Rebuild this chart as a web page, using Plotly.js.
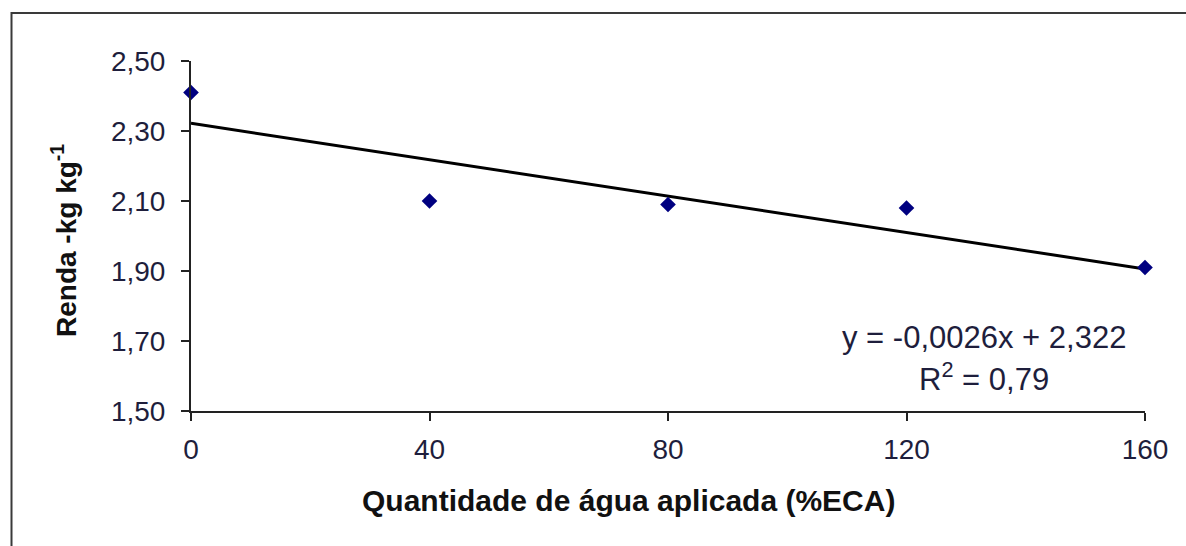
<!DOCTYPE html>
<html>
<head>
<meta charset="utf-8">
<script src="https://cdn.plot.ly/plotly-3.0.1.min.js"></script>
<style>html,body{margin:0;padding:0;background:#fff;}#chart{width:1186px;height:546px;}</style>
</head>
<body>
<div id="chart"></div>
<script>
// Data
const waterECA = [0, 40, 80, 120, 160];
const renda = [2.41, 2.10, 2.09, 2.08, 1.91];
// Linear fit printed on the chart
const fitSlope = -0.0026;
const fitIntercept = 2.322;
const fitR2 = '0,79';
const xTicks = [0, 40, 80, 120, 160];
const yTicks = [1.5, 1.7, 1.9, 2.1, 2.3, 2.5];

const fitX = [waterECA[0], waterECA[waterECA.length - 1]];
const fitY = fitX.map(x => fitIntercept + fitSlope * x);

const W = 1186, H = 546;
const L = 191, R = 41, T = 61, B = 135;
const pw = W - L - R, ph = H - T - B;
const px = p => (p - L) / pw;          // pixel -> paper x
const py = p => (H - B - p) / ph;      // pixel -> paper y

const tickFont = {family: 'Liberation Sans, Arial, sans-serif', size: 28, color: '#1e1e3c'};

const data = [
  {x: fitX, y: fitY, type: 'scatter', mode: 'lines',
   line: {color: '#000000', width: 3}, hoverinfo: 'skip', showlegend: false},
  {x: waterECA, y: renda, type: 'scatter', mode: 'markers', cliponaxis: false,
   marker: {symbol: 'diamond', size: 12, color: '#000080'}, showlegend: false}
];

const layout = {
  width: W, height: H,
  margin: {l: L, r: R, t: T, b: B, pad: 0},
  paper_bgcolor: '#ffffff', plot_bgcolor: '#ffffff',
  separators: ',.',
  xaxis: {
    range: [0, 160], tickvals: xTicks, ticktext: xTicks.map(String),
    showgrid: false, zeroline: false, showline: true, linecolor: '#222', linewidth: 2,
    ticks: 'outside', ticklen: 8, tickwidth: 2, tickcolor: '#222',
    tickfont: tickFont, ticklabelstandoff: 4, fixedrange: true
  },
  yaxis: {
    range: [1.5, 2.5], tickvals: yTicks, tickformat: '.2f',
    showgrid: false, zeroline: false, showline: true, linecolor: '#222', linewidth: 2,
    ticks: 'outside', ticklen: 8, tickwidth: 2, tickcolor: '#222',
    tickfont: tickFont, ticklabelstandoff: 10, fixedrange: true
  },
  shapes: [
    {type: 'rect', xref: 'paper', yref: 'paper',
     x0: px(11.5), x1: px(1250), y0: py(600), y1: py(13),
     line: {color: '#3a3a3a', width: 2}, fillcolor: 'rgba(0,0,0,0)', layer: 'below'}
  ],
  annotations: [
    {xref: 'paper', yref: 'paper', x: px(628), y: py(500), xanchor: 'center', yanchor: 'middle',
     text: 'Quantidade de água aplicada (%ECA)', showarrow: false,
     font: {family: 'Liberation Sans, Arial, sans-serif', size: 30, color: '#111', weight: 'bold'}},
    {xref: 'paper', yref: 'paper', x: px(64), y: py(241), xanchor: 'center', yanchor: 'middle',
     textangle: -90, text: 'Renda -kg kg<sup>-1</sup>', showarrow: false,
     font: {family: 'Liberation Sans, Arial, sans-serif', size: 28, color: '#111', weight: 'bold'}},
    {xref: 'paper', yref: 'paper', x: px(984), y: py(337), xanchor: 'center', yanchor: 'middle',
     text: 'y = -0,0026x + 2,322', showarrow: false,
     font: {family: 'Liberation Sans, Arial, sans-serif', size: 31, color: '#1e1e3c'}},
    {xref: 'paper', yref: 'paper', x: px(984), y: py(377), xanchor: 'center', yanchor: 'middle',
     text: 'R<sup>2</sup> = ' + fitR2, showarrow: false,
     font: {family: 'Liberation Sans, Arial, sans-serif', size: 31, color: '#1e1e3c'}}
  ]
};

Plotly.newPlot('chart', data, layout, {displayModeBar: false, staticPlot: true});
</script>
</body>
</html>
